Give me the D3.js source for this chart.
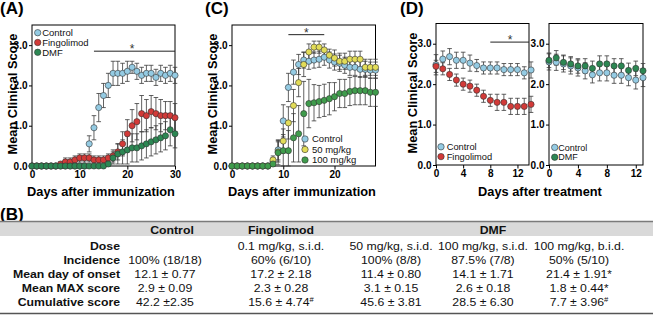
<!DOCTYPE html>
<html>
<head>
<meta charset="utf-8">
<script src="https://cdn.jsdelivr.net/npm/d3@7"></script>
<style>
  body { margin: 0; background: #fff; }
  svg { display: block; }
</style>
</head>
<body>
<div id="fig"></div>
<script>
// ---- data ----
const daysA = [0,1,2,3,4,5,6,7,8,9,10,11,12,13,14,15,16,17,18,19,20,21,22,23,24,25,26,27,28,29,30];
const controlA    = [0,0,0,0,0,0,0,0,0,0,0,0,0.55,0.95,1.45,1.75,2.0,2.3,2.3,2.3,2.35,2.45,2.35,2.25,2.3,2.3,2.2,2.3,2.25,2.3,2.25];
const controlAErr = [0,0,0,0,0,0,0,0,0,0,0,0,0.2,0.3,0.35,0.3,0.3,0.3,0.3,0.25,0.25,0.15,0.2,0.2,0.2,0.2,0.2,0.2,0.2,0.2,0.2];
const fingoA      = [0,0,0,0,0,0,0.05,0.1,0.1,0.15,0.2,0.2,0.2,0.15,0.15,0.15,0.2,0.25,0.35,0.55,0.8,1.0,1.1,1.3,1.25,1.35,1.3,1.25,1.25,1.25,1.2];
const fingoAErr   = [0,0,0,0,0,0,0.05,0.1,0.1,0.1,0.1,0.1,0.1,0.1,0.1,0.1,0.1,0.15,0.2,0.3,0.35,0.4,0.45,0.45,0.4,0.4,0.4,0.4,0.35,0.35,0.35];
const dmfA        = [0,0,0,0,0,0,0,0,0,0,0,0,0,0,0,0,0.05,0.2,0.3,0.35,0.4,0.45,0.45,0.5,0.55,0.6,0.65,0.7,0.75,0.9,0.8];
const dmfAErr     = [0,0,0,0,0,0,0,0,0,0,0,0,0,0,0,0,0.05,0.15,0.25,0.3,0.35,0.35,0.35,0.35,0.35,0.35,0.35,0.35,0.35,0.4,0.35];

const daysC = [0,1,2,3,4,5,6,7,8,9,10,11,12,13,14,15,16,17,18,19,20,21,22,23,24,25,26,27,28];
const controlC    = [0,0,0,0,0,0,0,0,0.1,0.4,1.12,1.95,2.33,2.52,2.63,2.6,2.63,2.65,2.7,2.63,2.58,2.55,2.5,2.45,2.45,2.4,2.4,2.38,2.38];
const controlCErr = [0,0,0,0,0,0,0,0,0.1,0.25,0.4,0.35,0.3,0.25,0.2,0.2,0.2,0.2,0.2,0.2,0.2,0.2,0.2,0.2,0.2,0.2,0.2,0.2,0.2];
const dose50C     = [0,0,0,0,0,0,0,0,0.15,0.35,0.62,1.07,1.5,2.07,2.52,2.83,2.95,2.95,2.88,2.75,2.68,2.6,2.6,2.65,2.65,2.65,2.45,2.45,2.45];
const dose50CErr  = [0,0,0,0,0,0,0,0,0.1,0.25,0.3,0.4,0.4,0.35,0.3,0.2,0.15,0.15,0.15,0.15,0.2,0.2,0.2,0.2,0.2,0.2,0.2,0.2,0.2];
const dose100C    = [0,0,0,0,0,0,0,0,0.05,0.33,0.38,0.38,0.7,0.8,1.3,1.55,1.57,1.6,1.63,1.67,1.72,1.8,1.8,1.85,1.87,1.87,1.87,1.83,1.83];
const dose100CErr = [0,0,0,0,0,0,0,0,0.05,0.3,0.4,0.5,0.6,0.7,0.8,0.6,0.45,0.4,0.4,0.4,0.35,0.35,0.35,0.35,0.35,0.35,0.35,0.35,0.35];

const daysD1 = [0,1,2,3,4,5,6,7,8,9,10,11,12,13,14];
const controlD1    = [2.48,2.62,2.68,2.59,2.59,2.52,2.46,2.4,2.4,2.4,2.36,2.36,2.36,2.28,2.35];
const controlD1Err = [0.25,0.2,0.2,0.2,0.2,0.2,0.15,0.15,0.15,0.15,0.15,0.15,0.15,0.15,0.2];
const fingoD1      = [2.44,2.38,2.24,2.1,2.0,1.95,1.85,1.7,1.6,1.55,1.55,1.45,1.45,1.45,1.5];
const fingoD1Err   = [0.15,0.15,0.15,0.15,0.15,0.15,0.15,0.15,0.15,0.2,0.2,0.2,0.2,0.2,0.2];

const daysD2 = [0,1,2,3,4,5,6,7,8,9,10,11,12,13];
const controlD2    = [2.55,2.54,2.5,2.45,2.4,2.33,2.23,2.28,2.28,2.22,2.22,2.16,2.1,2.16];
const controlD2Err = [0.2,0.2,0.2,0.2,0.2,0.2,0.2,0.2,0.2,0.2,0.2,0.2,0.22,0.22];
const dmfD2        = [2.59,2.65,2.54,2.5,2.45,2.45,2.39,2.5,2.5,2.45,2.45,2.34,2.39,2.33];
const dmfD2Err     = [0.18,0.18,0.18,0.18,0.18,0.18,0.18,0.2,0.2,0.18,0.18,0.18,0.18,0.18];

const yTicks = [0,1,2,3];

// table B
const tableHeads = ["Control", "Fingolimod", "DMF"];
const rowLabels = ["Dose", "Incidence", "Mean day of onset", "Mean MAX score", "Cumulative score"];
const colControl = ["", "100% (18/18)", "12.1 \u00b1 0.77", "2.9 \u00b1 0.09", "42.2 \u00b12.35"];
const colFingo   = ["0.1 mg/kg, s.i.d.", "60% (6/10)", "17.2 \u00b1 2.18", "2.3 \u00b1 0.28", "15.6 \u00b1 4.74"];
const colDmf50   = ["50 mg/kg, s.i.d.", "100% (8/8)", "11.4 \u00b1 0.80", "3.1 \u00b1 0.15", "45.6 \u00b1 3.81"];
const colDmf100  = ["100 mg/kg, s.i.d.", "87.5% (7/8)", "14.1 \u00b1 1.71", "2.6 \u00b1 0.18", "28.5 \u00b1 6.30"];
const colDmf100b = ["100 mg/kg, b.i.d.", "50% (5/10)", "21.4 \u00b1 1.91", "1.8 \u00b1 0.44", "7.7 \u00b1 3.96"];
const markFingo   = ["", "", "", "", "#"];
const markDmf100b = ["", "", "*", "*", "#"];

// ---- colours / fonts ----
const font = '"Liberation Sans", Arial, Helvetica, sans-serif';
const cControl = "#94cbe3";
const cFingo = "#d23a38";
const cDmf = "#2c8753";
const c50 = "#e2dc58";
const c100 = "#3f9c4c";

const width = 653, height = 318;
const svg = d3.select("#fig").append("svg")
    .attr("width", width)
    .attr("height", height)
    .attr("font-family", font);

function panel(p) {
    const x = d3.scaleLinear().domain(p.xDomain).range([p.left, p.right]);
    const y = d3.scaleLinear().domain([0, 3.5]).range([p.bottom, p.top]);
    const g = svg.append("g");

    const ax = g.append("g")
        .attr("transform", `translate(0,${p.bottom})`)
        .call(d3.axisBottom(x).tickValues(p.xTicks).tickSize(3.5).tickPadding(1.5));
    const ay = g.append("g")
        .attr("transform", `translate(${p.left},0)`)
        .call(d3.axisLeft(y).tickValues(yTicks).tickSize(3).tickPadding(1.5));
    [ax, ay].forEach(a => {
        a.attr("font-family", font).attr("font-size", 10).attr("font-weight", "bold");
        a.select(".domain").remove();
        a.selectAll("line").attr("stroke", "#000");
        a.selectAll("text").attr("fill", "#000");
    });

    g.append("rect")
        .attr("x", p.left).attr("y", p.top)
        .attr("width", p.right - p.left).attr("height", p.bottom - p.top)
        .attr("fill", "none").attr("stroke", "#000").attr("stroke-width", 1);

    // error bars first, then circles
    p.series.forEach(s => {
        const eb = g.append("g").attr("stroke", "#3a3a3a").attr("stroke-width", 0.8);
        s.days.forEach((d, i) => {
            const e = s.err[i];
            if (!e) return;
            const lo = y(Math.max(0, s.vals[i] - e)), hi = y(s.vals[i] + e), cx = x(d);
            eb.append("line").attr("x1", cx).attr("x2", cx).attr("y1", lo).attr("y2", hi);
            eb.append("line").attr("x1", cx - 2.3).attr("x2", cx + 2.3).attr("y1", hi).attr("y2", hi);
            eb.append("line").attr("x1", cx - 2.3).attr("x2", cx + 2.3).attr("y1", lo).attr("y2", lo);
        });
    });
    p.series.forEach(s => {
        g.append("g").selectAll("circle")
            .data(s.days.map((d, i) => [d, s.vals[i]]))
            .enter().append("circle")
            .attr("cx", d => x(d[0]))
            .attr("cy", d => y(d[1]))
            .attr("r", 3.1)
            .attr("fill", s.color)
            .attr("stroke", "#333")
            .attr("stroke-width", 0.6);
    });

    if (p.sig) {
        g.append("line")
            .attr("x1", x(p.sig.from)).attr("x2", x(p.sig.to))
            .attr("y1", y(p.sig.at)).attr("y2", y(p.sig.at))
            .attr("stroke", "#222").attr("stroke-width", 1);
        g.append("text")
            .attr("x", x(p.sig.star)).attr("y", y(p.sig.at) + 2)
            .attr("text-anchor", "middle").attr("font-size", 12).attr("fill", "#333")
            .text("*");
    }

    p.legend.items.forEach((it, i) => {
        const cy = p.legend.y + i * p.legend.step;
        g.append("circle").attr("cx", p.legend.x).attr("cy", cy).attr("r", 3.2)
            .attr("fill", it.color).attr("stroke", "#333").attr("stroke-width", 0.6);
        g.append("text").attr("x", p.legend.x + p.legend.gap).attr("y", cy + 3.2)
            .attr("font-size", p.legend.size || 9.5).attr("fill", "#111").text(it.label);
    });

    if (p.yTitle) {
        svg.append("text")
            .attr("transform", `translate(${p.yTitle.x},${p.yTitle.y}) rotate(-90)`)
            .attr("text-anchor", "middle").attr("font-size", 12.8).attr("font-weight", "bold")
            .text("Mean Clinical Score");
    }
}

panel({
    left: 32, right: 175, top: 25, bottom: 166,
    xDomain: [0, 30], xTicks: [0, 10, 20, 30],
    series: [
        { days: daysA, vals: controlA, err: controlAErr, color: cControl },
        { days: daysA, vals: fingoA, err: fingoAErr, color: cFingo },
        { days: daysA, vals: dmfA, err: dmfAErr, color: cDmf }
    ],
    sig: { from: 13, to: 30, at: 2.85, star: 21 },
    legend: { x: 37.7, y: 32.7, step: 9.8, gap: 4.5, items: [
        { label: "Control", color: cControl },
        { label: "Fingolimod", color: cFingo },
        { label: "DMF", color: cDmf }] },
    yTitle: { x: 16.8, y: 94 }
});

panel({
    left: 232, right: 375.5, top: 25, bottom: 166,
    xDomain: [0, 28], xTicks: [0, 10, 20],
    series: [
        { days: daysC, vals: controlC, err: controlCErr, color: cControl },
        { days: daysC, vals: dose50C, err: dose50CErr, color: c50 },
        { days: daysC, vals: dose100C, err: dose100CErr, color: c100 }
    ],
    sig: { from: 11, to: 18, at: 3.26, star: 14.5 },
    legend: { x: 305, y: 139, step: 10.5, gap: 7, items: [
        { label: "Control", color: cControl },
        { label: "50 mg/kg", color: c50 },
        { label: "100 mg/kg", color: c100 }] },
    yTitle: { x: 216.5, y: 94 }
});

panel({
    left: 436, right: 529, top: 23.5, bottom: 165,
    xDomain: [0, 13.7], xTicks: [0, 4, 8, 12],
    series: [
        { days: daysD1, vals: controlD1, err: controlD1Err, color: cControl },
        { days: daysD1, vals: fingoD1, err: fingoD1Err, color: cFingo }
    ],
    sig: { from: 8, to: 13.7, at: 3.04, star: 10.9 },
    legend: { x: 441, y: 146.8, step: 9.8, gap: 5.7, size: 9.3, items: [
        { label: "Control", color: cControl },
        { label: "Fingolimod", color: cFingo }] },
    yTitle: { x: 416.5, y: 93 }
});

panel({
    left: 549, right: 643, top: 23.5, bottom: 165,
    xDomain: [0, 13], xTicks: [0, 4, 8, 12],
    series: [
        { days: daysD2, vals: controlD2, err: controlD2Err, color: cControl },
        { days: daysD2, vals: dmfD2, err: dmfD2Err, color: cDmf }
    ],
    legend: { x: 554.7, y: 147.4, step: 9.8, gap: 3.6, size: 9, items: [
        { label: "Control", color: cControl },
        { label: "DMF", color: cDmf }] }
});

// x axis titles
[[101, "Days after immunization"], [302, "Days after immunization"], [540, "Days after treatment"]]
    .forEach(([cx, t]) => {
        svg.append("text").attr("x", cx).attr("y", 196)
            .attr("text-anchor", "middle").attr("font-size", 12.8).attr("font-weight", "bold")
            .text(t);
    });

// panel letters
[[0, 13.5, "(A)"], [205, 13.5, "(C)"], [400, 13.5, "(D)"], [0, 219.5, "(B)"]]
    .forEach(([x, y, t]) => {
        svg.append("text").attr("x", x).attr("y", y)
            .attr("font-size", 17).attr("font-weight", "bold").text(t);
    });

// ---- table B ----
svg.append("rect").attr("x", 0).attr("y", 221.5).attr("width", width).attr("height", 14.5).attr("fill", "#d9d9d9");
svg.append("line").attr("x1", 0).attr("x2", width).attr("y1", 221.5).attr("y2", 221.5)
    .attr("stroke", "#7a7a7a").attr("stroke-width", 1.6);
svg.append("line").attr("x1", 0).attr("x2", width).attr("y1", 313.5).attr("y2", 313.5)
    .attr("stroke", "#555").attr("stroke-width", 1.6);

const sx = 1.17;
const tg = svg.append("g").attr("transform", `scale(${sx},1)`).attr("font-size", 10.5).attr("fill", "#111");
const headX = [172, 281, 493];
tableHeads.forEach((h, i) => {
    tg.append("text").attr("x", headX[i] / sx).attr("y", 234)
        .attr("text-anchor", "middle").attr("font-weight", "bold").text(h);
});
const rowY = [250, 264.3, 278.5, 292.5, 306.5];
rowLabels.forEach((r, i) => {
    tg.append("text").attr("x", 120 / sx).attr("y", rowY[i])
        .attr("text-anchor", "end").attr("font-weight", "bold").text(r);
});
const cols = [
    { x: 165, vals: colControl },
    { x: 281, vals: colFingo, marks: markFingo },
    { x: 391, vals: colDmf50 },
    { x: 483, vals: colDmf100 },
    { x: 579, vals: colDmf100b, marks: markDmf100b }
];
cols.forEach(c => {
    c.vals.forEach((v, i) => {
        if (!v) return;
        const t = tg.append("text").attr("x", c.x / sx).attr("y", rowY[i]).attr("text-anchor", "middle");
        t.append("tspan").text(v);
        const m = c.marks ? c.marks[i] : "";
        if (m === "#") t.append("tspan").attr("font-size", 6.5).attr("dy", -4).text("#");
        else if (m === "*") t.append("tspan").attr("font-size", 10).text("*");
    });
});
</script>
</body>
</html>
